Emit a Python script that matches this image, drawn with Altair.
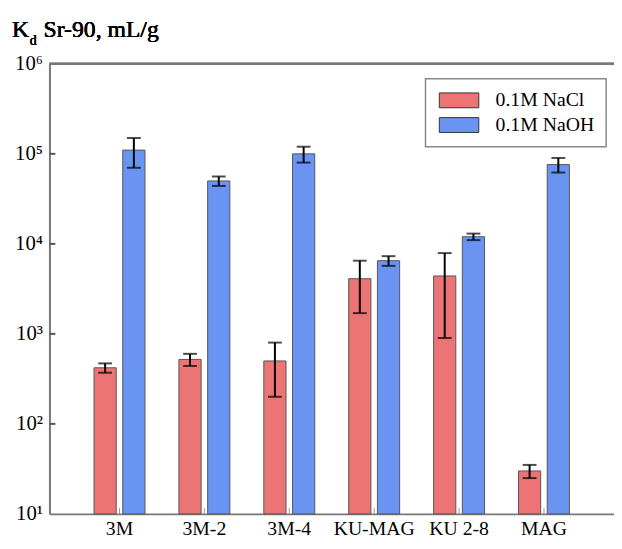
import altair as alt
import pandas as pd

categories = ["3M", "3M-2", "3M-4", "KU-MAG", "KU 2-8", "MAG"]
series = ["0.1M NaCl", "0.1M NaOH"]
nacl = [420, 520, 500, 4100, 4400, 30]
nacl_err = [50, 80, 300, 2400, 3500, 5]
naoh = [110000, 50000, 100000, 6500, 12000, 76000]
naoh_err = [40000, 6000, 20000, 800, 1000, 14000]
y_ticks = [10, 100, 1000, 10000, 100000, 1000000]
inner_ticks = [100, 1000, 10000, 100000]
colors = ["#ec7474", "#6a94f2"]

rows = []
for i, c in enumerate(categories):
    for s, v, e in ((series[0], nacl[i], nacl_err[i]), (series[1], naoh[i], naoh_err[i])):
        rows.append({"cat": c, "cond": s, "val": v, "lo": v - e, "hi": v + e, "base": 10})
df = pd.DataFrame(rows)

W, H = 572, 456
FONT = "Liberation Serif"

yscale = alt.Scale(type="log", domain=[10, 1000000], nice=False)
xscale = alt.Scale(domain=categories, paddingInner=0.4, paddingOuter=0.525)
offscale = alt.Scale(domain=series, paddingInner=0.227, paddingOuter=0)

x_enc = alt.X("cat:N", scale=xscale, sort=categories, axis=alt.Axis(
    title=None, labelAngle=0, labelFont=FONT, labelFontSize=20, labelColor="black",
    ticks=False, domainColor="#777", domainWidth=2, labelPadding=5))
xo_enc = alt.XOffset("cond:N", scale=offscale, sort=series)

base = alt.Chart(df)

bars = base.mark_bar(stroke="#555", strokeWidth=1).encode(
    x=x_enc,
    xOffset=xo_enc,
    y=alt.Y("val:Q", scale=yscale, axis=alt.Axis(
        title=None, values=y_ticks, ticks=False, grid=False, domainColor="#777", domainWidth=2,
        labelFont=FONT, labelFontSize=21, labelColor="black", labelPadding=7,
        labelOverlap=False, labelBound=False, labelFlush=False,
        labelExpr="'10' + ['\u2070','\u00b9','\u00b2','\u00b3','\u2074','\u2075','\u2076'][round(log(datum.value)/LN10)]")),
    y2="base:Q",
    fill=alt.Fill("cond:N", scale=alt.Scale(domain=series, range=colors),
                  legend=alt.Legend(title=None, orient="none", legendX=381, legendY=15)),
)

err = base.mark_rule(color="black", strokeWidth=2).encode(
    x=alt.X("cat:N", scale=xscale, sort=categories),
    xOffset=xo_enc,
    y=alt.Y("lo:Q", scale=yscale),
    y2="hi:Q",
)
cap_hi = base.mark_tick(color="black", thickness=2, size=14).encode(
    x=alt.X("cat:N", scale=xscale, sort=categories),
    xOffset=xo_enc,
    y=alt.Y("hi:Q", scale=yscale),
)
cap_lo = base.mark_tick(color="black", thickness=2, size=14).encode(
    x=alt.X("cat:N", scale=xscale, sort=categories),
    xOffset=xo_enc,
    y=alt.Y("lo:Q", scale=yscale),
)

tick_df = pd.DataFrame({"v": inner_ticks})
yt = alt.Chart(tick_df).mark_rule(color="#555", strokeWidth=2).encode(
    y=alt.Y("v:Q", scale=yscale), x=alt.value(0), x2=alt.value(6))

cat_df = pd.DataFrame({"cat": categories})
xt = alt.Chart(cat_df).mark_rule(color="#999", strokeWidth=1).encode(
    x=alt.X("cat:N", scale=xscale, sort=categories), y=alt.value(H), y2=alt.value(H - 6))

top = alt.Chart(tick_df).mark_rule(color="#777", strokeWidth=2).encode(
    y=alt.datum(1000000), x=alt.value(0), x2=alt.value(W))

t1 = alt.Chart(tick_df).mark_text(text="K", font=FONT, fontSize=24, fontWeight="normal",
                                  align="left", baseline="alphabetic", color="black").encode(
    x=alt.value(-38), y=alt.value(-27))
t2 = alt.Chart(tick_df).mark_text(text="d", font=FONT, fontSize=14, fontWeight="normal",
                                  align="left", baseline="alphabetic", color="black").encode(
    x=alt.value(-20), y=alt.value(-19))
t3 = alt.Chart(tick_df).mark_text(text="Sr-90, mL/g", font=FONT, fontSize=24, fontWeight="normal",
                                  align="left", baseline="alphabetic", color="black").encode(
    x=alt.value(-6), y=alt.value(-27))

chart = alt.layer(bars, err, cap_hi, cap_lo, yt, xt, top, t1, t2, t3).properties(
    width=W, height=H,
    padding={"left": 42, "top": 53, "right": 0, "bottom": 32},
    autosize=alt.AutoSizeParams(type="none"),
).configure_view(stroke=None).configure_legend(
    fillColor="white", strokeColor="#888", strokeWidth=1.5, padding=12,
    labelFont=FONT, labelFontSize=20, labelColor="black", labelOffset=39,
    symbolType="M-1,-0.94L4,-0.94L4,0.94L-1,0.94Z", symbolSize=256,
    symbolStrokeColor="#333", symbolStrokeWidth=1, symbolOpacity=1, rowPadding=5,
)

chart.save("out.html", embed_options={"renderer": "svg", "actions": False})
